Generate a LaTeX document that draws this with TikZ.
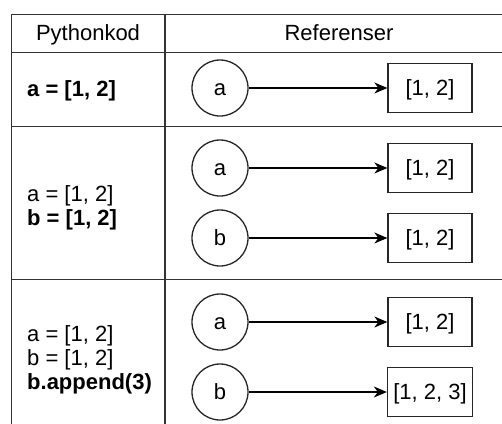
\documentclass[tikz,border=0pt]{standalone}
\usepackage{fontspec}
\setmainfont{Liberation Sans}
\usetikzlibrary{arrows.meta}
\begin{document}
\begin{tikzpicture}[x=1pt, y=-1pt,
  txt/.style={inner sep=0pt, font=\fontsize{22}{24}\selectfont},
  ref/.style={circle, draw=black!85, line width=1.3pt, minimum size=56pt,
    inner sep=0pt, font=\fontsize{22}{24}\selectfont,
    text height=15pt, text depth=0pt},
  val/.style={rectangle, draw=black!85, line width=1.3pt, minimum width=84pt,
    minimum height=49pt, inner sep=0pt, font=\fontsize{22}{24}\selectfont,
    text height=15pt, text depth=0pt},
  gridline/.style={draw=black!80, line width=1.5pt},
  link/.style={-{Stealth[length=13pt, width=11pt, inset=4pt]}, line width=1.3pt}]
\useasboundingbox (0,0) rectangle (502,423);
\clip (0,0) rectangle (502,423);

% table frame and rules
\draw[gridline] (11.5,14.5) rectangle (513,434.5);
\draw[gridline] (165,14.5) -- (165,434.5);
\draw[gridline] (11.5,52.5) -- (513,52.5);
\draw[gridline] (11.5,126.5) -- (513,126.5);
\draw[gridline] (11.5,279.5) -- (513,279.5);

% header
\node[txt, anchor=base] (h1) at (88,40) {Pythonkod};
\node[txt, anchor=base] (h2) at (339,40) {Referenser};

% row 1
\node[txt, anchor=base west] (c1) at (27,96) {\textbf{a = [1, 2]}};
\node[ref] (r1a) at (220,88) {a};
\node[val] (v1a) at (430,88) {[1, 2]};
\draw[link] (r1a) -- (v1a);

% row 2
\node[txt, anchor=base west] (c2a) at (27,201) {a = [1, 2]};
\node[txt, anchor=base west] (c2b) at (27,225.5) {\textbf{b = [1, 2]}};
\node[ref] (r2a) at (220,168) {a};
\node[val] (v2a) at (430,168) {[1, 2]};
\node[ref] (r2b) at (220,238) {b};
\node[val] (v2b) at (430,238) {[1, 2]};
\draw[link] (r2a) -- (v2a);
\draw[link] (r2b) -- (v2b);

% row 3
\node[txt, anchor=base west] (c3a) at (27,341.5) {a = [1, 2]};
\node[txt, anchor=base west] (c3b) at (27,365.5) {b = [1, 2]};
\node[txt, anchor=base west] (c3c) at (27,389.5) {\textbf{b.append(3)}};
\node[ref] (r3a) at (220,322) {a};
\node[val] (v3a) at (430,322) {[1, 2]};
\node[ref] (r3b) at (220,392) {b};
\node[val, minimum width=85pt] (v3b) at (430,392) {[1, 2, 3]};
\draw[link] (r3a) -- (v3a);
\draw[link] (r3b) -- (v3b);
\end{tikzpicture}
\end{document}
